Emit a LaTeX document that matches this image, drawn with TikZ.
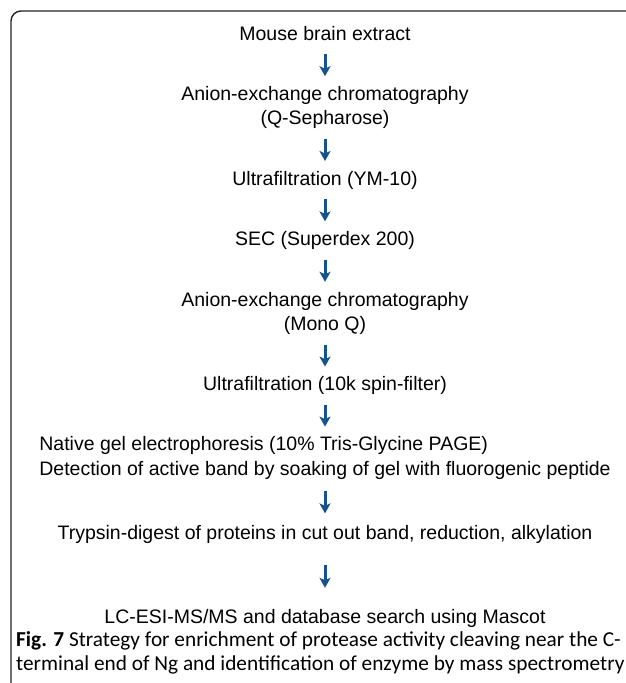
\documentclass[tikz,border=0pt]{standalone}
\usepackage{fontspec}
\setmainfont{Liberation Sans}
\newfontfamily\capfont{Carlito}
\usetikzlibrary{arrows.meta,positioning}
\definecolor{flowblue}{RGB}{22,82,140}
\definecolor{framegray}{RGB}{35,35,35}

\begin{document}
\begin{tikzpicture}[x=1pt,y=1pt,>={Stealth[length=10pt,width=11pt,inset=2.5pt]},
    font=\fontsize{19.5}{24}\selectfont,node distance=42pt,
    stage/.style={inner sep=0pt,text height=14pt,text depth=4pt},
    captext/.style={inner sep=0pt,text height=14pt,text depth=4pt,font=\capfont\fontsize{21.3}{24}\selectfont},
    flow/.style={->,flowblue,line width=3pt,shorten <=10pt,shorten >=10pt}]
    \useasboundingbox (0,0) rectangle (625,-683);
    \draw[framegray,line width=1.4pt,rounded corners=10pt] (640,-693) -- (11,-693) -- (11,-11) -- (640,-11);
    \node[stage] (brain) at (325,-35) {Mouse brain extract};
    \node[stage,below=of brain] (qsepha) {Anion-exchange chromatography};
    \node[stage,below=6pt of qsepha] (qsephb) {(Q-Sepharose)};
    \node[stage,below=of qsephb] (ymten) {Ultrafiltration (YM-10)};
    \node[stage,below=of ymten] (sec) {SEC (Superdex 200)};
    \node[stage,below=of sec] (monoqa) {Anion-exchange chromatography};
    \node[stage,below=6pt of monoqa] (monoqb) {(Mono Q)};
    \node[stage,below=of monoqb] (spin) {Ultrafiltration (10k spin-filter)};
    \node[stage,below=66pt of spin] (detect) {Detection of active band by soaking of gel with fluorogenic peptide};
    \node[stage,above=6pt of detect.north west,anchor=south west] (native) {Native gel electrophoresis (10\% Tris-Glycine PAGE)};
    \node[stage,below=46pt of detect] (digest) {Trypsin-digest of proteins in cut out band, reduction, alkylation};
    \node[stage,below=65pt of digest] (mascot) {LC-ESI-MS/MS and database search using Mascot};
    \node[captext,anchor=west] (capa) at (16,-641) {\textbf{Fig. 7} Strategy for enrichment of protease activity cleaving near the C-};
    \node[captext,below=6pt of capa.south west,anchor=north west] (capb) {terminal end of Ng and identification of enzyme by mass spectrometry};
    \draw[flow] (brain) -- (qsepha);
    \draw[flow] (qsephb) -- (ymten);
    \draw[flow] (ymten) -- (sec);
    \draw[flow] (sec) -- (monoqa);
    \draw[flow] (monoqb) -- (spin);
    \draw[flow] (spin.south) -- (spin.south |- native.north);
    \draw[flow,shorten <=12pt,shorten >=12pt] (detect) -- (digest);
    \draw[flow,shorten <=21pt,shorten >=21pt] (digest) -- (mascot);
\end{tikzpicture}
\end{document}
